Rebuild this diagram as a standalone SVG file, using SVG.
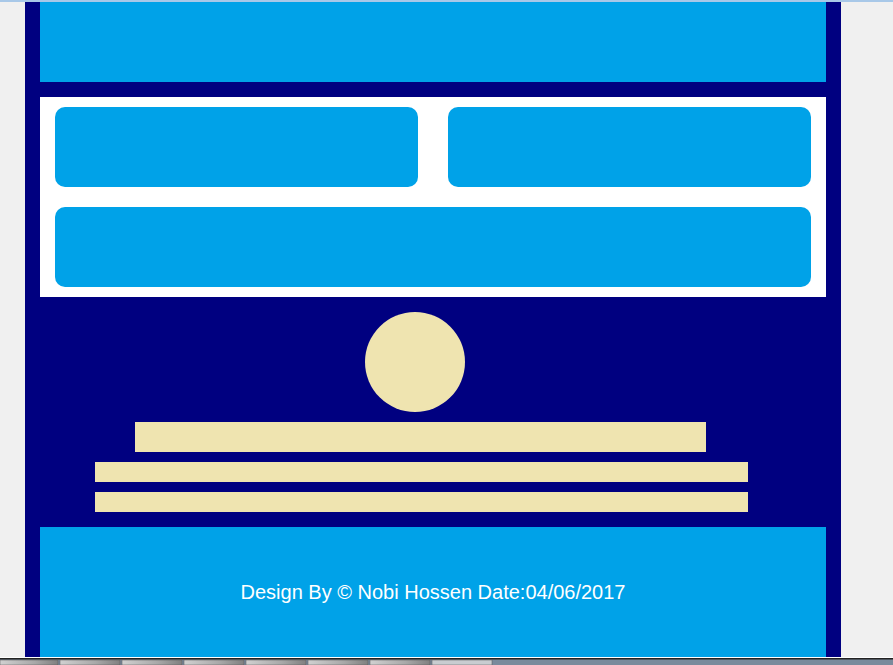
<svg xmlns="http://www.w3.org/2000/svg" width="893" height="665" viewBox="0 0 893 665">
<defs>
<style>
.lb{fill:#00a2e8}
.card{fill:#00a2e8}
.sand{fill:#efe4b0}
.tab{fill:url(#tabg);stroke:#555;stroke-width:0.5}
</style>
<linearGradient id="tabg" x1="0" y1="0" x2="1" y2="0">
<stop offset="0" stop-color="#d0d0d0"/>
<stop offset="0.6" stop-color="#a8a8a8"/>
<stop offset="1" stop-color="#808080"/>
</linearGradient>
</defs>
<rect x="0" y="0" width="893" height="665" fill="#f0f0f0"/>
<rect x="0" y="0" width="893" height="2" fill="#a8c8e8"/>
<rect x="25" y="2" width="816" height="655" fill="#000080"/>
<g id="header"><rect class="lb" x="40" y="2" width="786" height="80"/></g>
<g id="panel">
<rect x="40" y="97" width="786" height="200" fill="#ffffff"/>
</g>
<g id="card1"><rect class="card" x="55" y="107" width="363" height="80" rx="10"/></g>
<g id="card2"><rect class="card" x="448" y="107" width="363" height="80" rx="10"/></g>
<g id="card3"><rect class="card" x="55" y="207" width="756" height="80" rx="10"/></g>
<g id="circle"><circle class="sand" cx="415" cy="362" r="50"/></g>
<g id="bar1"><rect class="sand" x="135" y="422" width="571" height="30"/></g>
<g id="bar2"><rect class="sand" x="95" y="462" width="653" height="20"/></g>
<g id="bar3"><rect class="sand" x="95" y="492" width="653" height="20"/></g>
<g id="footer">
<rect class="lb" x="40" y="527" width="786" height="130"/>
<text x="433" y="599" font-family="Liberation Sans, Arial, sans-serif" font-size="20" fill="#ffffff" text-anchor="middle">Design By © Nobi Hossen Date:04/06/2017</text>
</g>
<g id="connectors"></g>
<g id="taskbar">
<rect x="0" y="657" width="893" height="8" fill="#7a8a9c"/>
<rect x="0" y="657" width="893" height="1" fill="#ffffff"/>
<rect x="0" y="658" width="893" height="1.5" fill="#222"/>
<rect class="tab" x="0" y="660" width="58" height="5"/>
<rect class="tab" x="60" y="660" width="60" height="5"/>
<rect class="tab" x="122" y="660" width="60" height="5"/>
<rect class="tab" x="184" y="660" width="60" height="5"/>
<rect class="tab" x="246" y="660" width="60" height="5"/>
<rect class="tab" x="308" y="660" width="60" height="5"/>
<rect class="tab" x="370" y="660" width="60" height="5"/>
<rect x="432" y="660" width="60" height="5" fill="#c8ccd0" stroke="#555" stroke-width="0.5"/>
</g>
</svg>
